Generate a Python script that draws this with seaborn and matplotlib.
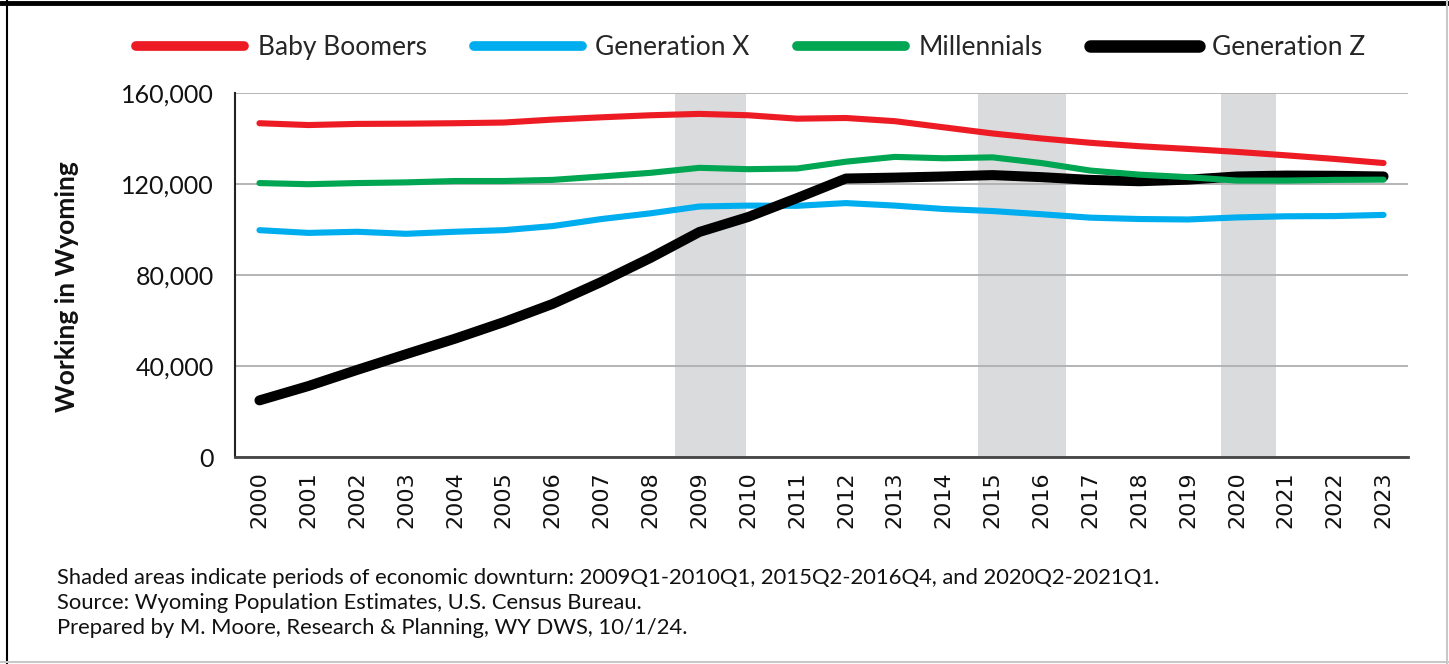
import pandas as pd
import matplotlib.pyplot as plt
import seaborn as sns
from matplotlib.lines import Line2D
from matplotlib.ticker import FuncFormatter, MultipleLocator

# Data
years = list(range(2000, 2024))
baby_boomers = [146.7, 145.9, 146.4, 146.5, 146.7, 147.0, 148.3, 149.3, 150.2, 150.8, 150.2, 148.7,
                149.0, 147.6, 144.9, 142.2, 140.0, 138.1, 136.6, 135.4, 134.1, 132.6, 131.0, 129.2]
generation_x = [99.7, 98.5, 99.0, 98.1, 99.0, 99.7, 101.5, 104.6, 107.1, 110.1, 110.5, 110.4,
                111.6, 110.5, 109.0, 108.1, 106.7, 105.2, 104.6, 104.4, 105.3, 105.8, 105.9, 106.4]
millennials = [120.4, 119.9, 120.4, 120.7, 121.3, 121.3, 121.8, 123.3, 124.9, 127.1, 126.5, 126.8,
               129.8, 131.9, 131.3, 131.7, 129.2, 125.9, 124.1, 123.0, 121.5, 121.5, 121.8, 121.9]
generation_z = [24.9, 31.2, 38.3, 45.2, 52.0, 59.3, 67.3, 77.0, 87.5, 98.9, 105.5, 113.8,
                122.4, 122.8, 123.3, 123.9, 123.0, 121.8, 121.2, 121.9, 123.3, 123.7, 123.6, 123.3]

# downturn periods, in category positions (2000 = 0)
downturns = [(8.5, 9.96), (14.7, 16.5), (19.68, 20.8)]

series = {
    'Baby Boomers': baby_boomers,
    'Generation X': generation_x,
    'Millennials': millennials,
    'Generation Z': generation_z,
}
colors = {'Baby Boomers': '#ED1C24', 'Generation X': '#00AEEF',
          'Millennials': '#00A651', 'Generation Z': '#000000'}
widths = {'Baby Boomers': 4.4, 'Generation X': 4.4, 'Millennials': 4.4, 'Generation Z': 7.2}
zorders = {'Baby Boomers': 5, 'Generation X': 3, 'Millennials': 5, 'Generation Z': 4}

rows = []
for name, vals in series.items():
    for i, v in enumerate(vals):
        rows.append({'pos': i, 'year': years[i], 'group': name, 'workers': v * 1000})
df = pd.DataFrame(rows)

sns.set_theme(style="white")
plt.rcParams['font.family'] = ['Lato', 'DejaVu Sans']

fig = plt.figure(figsize=(14.49, 6.64), dpi=100)
ax = fig.add_axes([0.1622, 0.3117, 0.8095, 0.5483])

for a, b in downturns:
    ax.axvspan(a, b, color='#DADBDD', zorder=0, lw=0)

for name in series:
    sns.lineplot(data=df[df['group'] == name], x='pos', y='workers', color=colors[name],
                 linewidth=widths[name], ax=ax, zorder=zorders[name], label=name,
                 solid_capstyle='round')

ax.set_xlim(-0.5, 23.5)
ax.set_ylim(0, 160000)
ax.yaxis.set_major_locator(MultipleLocator(40000))
ax.yaxis.set_major_formatter(FuncFormatter(lambda v, p: f'{int(v):,}'))
ax.grid(axis='y', color='#AFAFAF', linewidth=1.3, zorder=1)
ax.set_axisbelow(True)

ax.set_xticks(range(24))
ax.set_xticklabels([str(y) for y in years], rotation=90, fontsize=16,
                   family='DejaVu Sans', color='#111111')
ax.set_xticks([i + 0.5 for i in range(-1, 24)], minor=True)
ax.tick_params(axis='x', which='major', length=0, pad=10)
ax.tick_params(axis='x', which='minor', direction='in', length=8, width=1.5, color='#333333')
ax.tick_params(axis='y', labelsize=18, length=0, pad=15, labelcolor='#111111')

for s in ['top', 'right']:
    ax.spines[s].set_visible(False)
ax.spines['left'].set_color('#222222')
ax.spines['left'].set_linewidth(1.5)
ax.spines['bottom'].set_color('#444444')
ax.spines['bottom'].set_linewidth(2)

ax.set_xlabel('')
ax.set_ylabel('Working in Wyoming', fontsize=19, fontweight='bold', color='#111111')
ax.yaxis.set_label_coords(-0.133, 0.467)

handles = [Line2D([0], [0], color=colors[n], linewidth=7 if n != 'Generation Z' else 9,
                  solid_capstyle='round') for n in series]
ax.get_legend().remove()
fig.legend(handles, list(series.keys()), loc='center', bbox_to_anchor=(0.518, 0.928), ncol=4,
           frameon=False, fontsize=19, handlelength=4.1, handletextpad=0.5, columnspacing=1.8)

notes = ["Shaded areas indicate periods of economic downturn: 2009Q1-2010Q1, 2015Q2-2016Q4, and 2020Q2-2021Q1.",
         "Source: Wyoming Population Estimates, U.S. Census Bureau.",
         "Prepared by M. Moore, Research & Planning, WY DWS, 10/1/24."]
for k, line in enumerate(notes):
    fig.text(57 / 1449, 1 - (578 + 25 * k) / 664, line, fontsize=15.8, va='center', color='#111111')

# outer frame
fig.add_artist(Line2D([0, 1], [1 - 2.5 / 664] * 2, transform=fig.transFigure, color='black', lw=3.5))
fig.add_artist(Line2D([7 / 1449] * 2, [0, 1], transform=fig.transFigure, color='black', lw=1.5))
fig.add_artist(Line2D([1447 / 1449] * 2, [0, 1], transform=fig.transFigure, color='#C8C8C8', lw=1.5))
fig.add_artist(Line2D([0, 1], [2 / 664] * 2, transform=fig.transFigure, color='#C8C8C8', lw=1.5))

plt.savefig('out.png', dpi=100)
print("Saved: out.png")
